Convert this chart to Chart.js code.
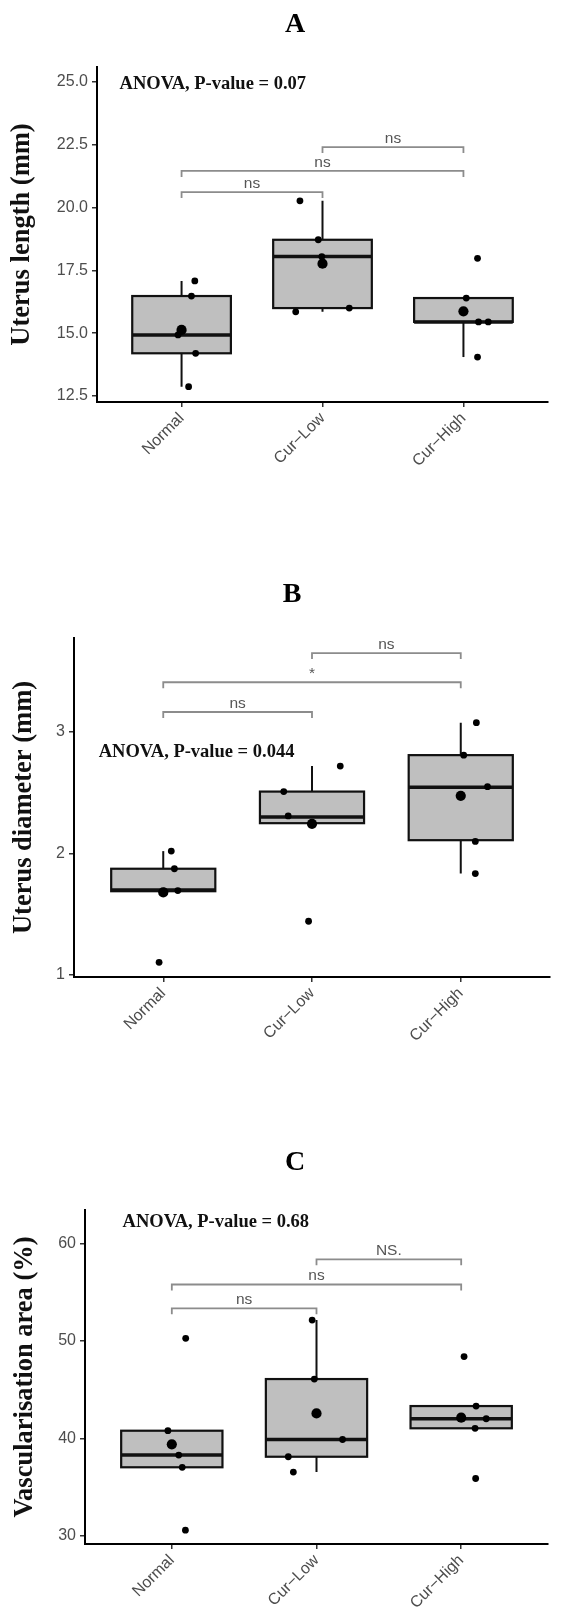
<!DOCTYPE html>
<html>
<head>
<meta charset="utf-8">
<script src="https://cdn.jsdelivr.net/npm/chart.js@4.4.1/dist/chart.umd.min.js"></script>
<style>
  body { margin: 0; background: #fff; }
  .panel { position: absolute; left: 0; }
</style>
</head>
<body>
<div class="panel" style="top:0"><canvas id="chartA" width="588" height="540"></canvas></div>
<div class="panel" style="top:540px"><canvas id="chartB" width="588" height="520"></canvas></div>
<div class="panel" style="top:1060px"><canvas id="chartC" width="588" height="560"></canvas></div>
<script>
const categories = ["Normal", "Cur\u2212Low", "Cur\u2212High"];

// A - uterus length (mm)
const lengthTicks = [12.5, 15, 17.5, 20, 22.5, 25];
const lengthTickLabels = ["12.5", "15.0", "17.5", "20.0", "22.5", "25.0"];
const lengthQ1 = [14.2, 16.0, 15.45];
const lengthMedian = [14.93, 18.05, 15.45];
const lengthQ3 = [16.48, 18.72, 16.4];
const lengthLow = [12.87, 15.85, 14.05];
const lengthHigh = [17.08, 20.27, 16.4];
const lengthMeans = [15.13, 17.77, 15.87];
const lengthPoints = [
  [17.08, 16.48, 14.93, 14.2, 12.87],
  [20.27, 18.72, 18.05, 16.0, 15.85],
  [17.98, 16.4, 15.45, 15.45, 14.05]
];
const lengthJitter = [
  [0.094, 0.07, -0.025, 0.1, 0.05],
  [-0.16, -0.03, -0.005, 0.19, -0.19],
  [0.1, 0.02, 0.107, 0.176, 0.1]
];
const lengthBracketFrom = [0, 0, 1];
const lengthBracketTo = [1, 2, 2];
const lengthBracketY = [20.62, 21.46, 22.41];
const lengthBracketLabels = ["ns", "ns", "ns"];

// B - uterus diameter (mm)
const diamTicks = [1, 2, 3];
const diamTickLabels = ["1", "2", "3"];
const diamQ1 = [1.69, 2.25, 2.11];
const diamMedian = [1.70, 2.30, 2.545];
const diamQ3 = [1.875, 2.51, 2.81];
const diamLow = [1.69, 2.25, 1.835];
const diamHigh = [2.02, 2.72, 3.077];
const diamMeans = [1.68, 2.245, 2.475];
const diamPoints = [
  [2.02, 1.875, 1.695, 1.69, 1.105],
  [2.72, 2.51, 2.31, 2.25, 1.443],
  [3.077, 2.81, 2.55, 2.10, 1.835]
];
const diamJitter = [
  [0.054, 0.075, 0.098, 0.005, -0.028],
  [0.19, -0.19, -0.16, 0.0, -0.023],
  [0.105, 0.02, 0.18, 0.098, 0.098]
];
const diamBracketFrom = [0, 0, 1];
const diamBracketTo = [1, 2, 2];
const diamBracketY = [3.165, 3.41, 3.65];
const diamBracketLabels = ["ns", "*", "ns"];

// C - vascularisation area (%)
const vascTicks = [30, 40, 50, 60];
const vascTickLabels = ["30", "40", "50", "60"];
const vascQ1 = [37.05, 38.13, 41.05];
const vascMedian = [38.3, 39.9, 42.03];
const vascQ3 = [40.8, 46.1, 43.33];
const vascLow = [37.05, 36.56, 41.05];
const vascHigh = [40.8, 52.15, 43.33];
const vascMeans = [39.4, 42.57, 42.14];
const vascPoints = [
  [50.28, 40.8, 38.3, 37.05, 30.6],
  [52.15, 46.1, 39.9, 38.13, 36.56],
  [48.4, 43.33, 42.03, 41.05, 35.9]
];
const vascJitter = [
  [0.096, -0.027, 0.048, 0.072, 0.094],
  [-0.03, -0.015, 0.18, -0.195, -0.16],
  [0.02, 0.103, 0.173, 0.096, 0.1]
];
const vascBracketFrom = [0, 0, 1];
const vascBracketTo = [1, 2, 2];
const vascBracketY = [53.35, 55.8, 58.38];
const vascBracketLabels = ["ns", "ns", "NS."];

const SANS = '"Liberation Sans", Arial, Helvetica, sans-serif';
const SERIF = '"Liberation Serif", "Times New Roman", Times, serif';
const BOX_WIDTH = 0.7;

function drawPanel(id, p) {
  const boxes = {
    id: "boxes",
    beforeDatasetsDraw(chart) {
      const { ctx, scales: { x, y } } = chart;
      ctx.save();
      ctx.strokeStyle = "#111";
      p.q1.forEach((q1, i) => {
        const cx = x.getPixelForValue(i + 1);
        const hw = x.getPixelForValue(i + 1 + BOX_WIDTH / 2) - cx;
        const top = y.getPixelForValue(p.q3[i]);
        const bot = y.getPixelForValue(q1);
        // whiskers
        ctx.lineWidth = 2;
        ctx.beginPath();
        ctx.moveTo(cx, top);
        ctx.lineTo(cx, y.getPixelForValue(p.high[i]));
        ctx.moveTo(cx, bot);
        ctx.lineTo(cx, y.getPixelForValue(p.low[i]));
        ctx.stroke();
        // box
        ctx.fillStyle = "#bfbfbf";
        ctx.fillRect(cx - hw, top, 2 * hw, bot - top);
        ctx.lineWidth = 2.2;
        ctx.strokeRect(cx - hw, top, 2 * hw, bot - top);
        // median
        const my = y.getPixelForValue(p.median[i]);
        ctx.lineWidth = 3.5;
        ctx.beginPath();
        ctx.moveTo(cx - hw, my);
        ctx.lineTo(cx + hw, my);
        ctx.stroke();
      });
      ctx.restore();
    }
  };

  const annotations = {
    id: "annotations",
    afterDraw(chart) {
      const { ctx, scales: { x, y } } = chart;
      ctx.save();
      // significance brackets
      ctx.strokeStyle = "#8c8c8c";
      ctx.lineWidth = 1.8;
      ctx.fillStyle = "#555";
      ctx.font = "15.5px " + SANS;
      ctx.textAlign = "center";
      ctx.textBaseline = "alphabetic";
      p.bracketY.forEach((v, i) => {
        const x1 = x.getPixelForValue(p.from[i] + 1);
        const x2 = x.getPixelForValue(p.to[i] + 1);
        const by = y.getPixelForValue(v);
        ctx.beginPath();
        ctx.moveTo(x1, by + 6);
        ctx.lineTo(x1, by);
        ctx.lineTo(x2, by);
        ctx.lineTo(x2, by + 6);
        ctx.stroke();
        ctx.fillText(p.bracketLabels[i], (x1 + x2) / 2, by - 4);
      });
      // ANOVA result
      ctx.fillStyle = "#111";
      ctx.font = "bold 18.5px " + SERIF;
      ctx.textAlign = "left";
      ctx.fillText(p.anova, x.getPixelForValue(p.anovaAt[0]), y.getPixelForValue(p.anovaAt[1]));
      // panel letter
      ctx.fillStyle = "#000";
      ctx.font = "bold 28px " + SERIF;
      ctx.textAlign = "center";
      ctx.fillText(p.letter, p.letterAt[0], p.letterAt[1]);
      ctx.restore();
    }
  };

  const pts = [];
  p.points.forEach((arr, i) => arr.forEach((v, j) => pts.push({ x: i + 1 + p.jitter[i][j], y: v })));
  const means = p.means.map((v, i) => ({ x: i + 1, y: v }));

  new Chart(document.getElementById(id), {
    type: "scatter",
    data: {
      datasets: [
        { data: pts, pointRadius: 3.4, backgroundColor: "#000", borderWidth: 0 },
        { data: means, pointRadius: 5.1, backgroundColor: "#000", borderWidth: 0 }
      ]
    },
    options: {
      responsive: false,
      animation: false,
      devicePixelRatio: 1,
      events: [],
      layout: { padding: { top: p.padTop, bottom: p.padBottom, left: 0, right: p.padRight } },
      plugins: { legend: { display: false }, tooltip: { enabled: false } },
      scales: {
        x: {
          type: "linear",
          min: 0.4,
          max: 3.6,
          afterBuildTicks: (s) => { s.ticks = categories.map((c, i) => ({ value: i + 1 })); },
          afterFit: (s) => { s.height = p.xHeight; },
          ticks: {
            callback: (v) => categories[Math.round(v) - 1],
            minRotation: 45,
            maxRotation: 45,
            autoSkip: false,
            padding: 2,
            color: "#4d4d4d",
            font: { family: SANS, size: 16 }
          },
          grid: { drawOnChartArea: false, tickLength: 5, tickColor: "#333", lineWidth: 1.5 },
          border: { color: "#000", width: 2 }
        },
        y: {
          min: p.yMin,
          max: p.yMax,
          afterBuildTicks: (s) => { s.ticks = p.ticks.map((v) => ({ value: v })); },
          afterFit: (s) => { s.width = p.yWidth; },
          ticks: {
            callback: (v, i) => p.tickLabels[i],
            padding: 4,
            color: "#4d4d4d",
            font: { family: SANS, size: 16 }
          },
          grid: { drawOnChartArea: false, tickLength: 5, tickColor: "#333", lineWidth: 1.5 },
          border: { color: "#000", width: 2 },
          title: {
            display: true,
            text: p.yTitle,
            color: "#111",
            padding: { top: p.yTitlePad, bottom: 0 },
            font: { family: SERIF, size: 26.5, weight: "bold", lineHeight: 1.2 }
          }
        }
      }
    },
    plugins: [boxes, annotations]
  });
}

drawPanel("chartA", {
  letter: "A", letterAt: [295, 32],
  anova: "ANOVA, P-value = 0.07", anovaAt: [0.56, 24.72],
  yTitle: "Uterus length (mm)", yTitlePad: 6,
  yMin: 12.26, yMax: 25.6, ticks: lengthTicks, tickLabels: lengthTickLabels,
  q1: lengthQ1, median: lengthMedian, q3: lengthQ3, low: lengthLow, high: lengthHigh,
  means: lengthMeans, points: lengthPoints, jitter: lengthJitter,
  from: lengthBracketFrom, to: lengthBracketTo, bracketY: lengthBracketY, bracketLabels: lengthBracketLabels,
  padTop: 67, padBottom: 38, padRight: 40, xHeight: 100, yWidth: 97
});

drawPanel("chartB", {
  letter: "B", letterAt: [292, 62],
  anova: "ANOVA, P-value = 0.044", anovaAt: [0.566, 2.794],
  yTitle: "Uterus diameter (mm)", yTitlePad: 8,
  yMin: 0.984, yMax: 3.774, ticks: diamTicks, tickLabels: diamTickLabels,
  q1: diamQ1, median: diamMedian, q3: diamQ3, low: diamLow, high: diamHigh,
  means: diamMeans, points: diamPoints, jitter: diamJitter,
  from: diamBracketFrom, to: diamBracketTo, bracketY: diamBracketY, bracketLabels: diamBracketLabels,
  padTop: 98, padBottom: 13, padRight: 38, xHeight: 70, yWidth: 74
});

drawPanel("chartC", {
  letter: "C", letterAt: [295, 110],
  anova: "ANOVA, P-value = 0.68", anovaAt: [0.66, 61.69],
  yTitle: "Vascularisation area (%)", yTitlePad: 9,
  yMin: 29.18, yMax: 63.44, ticks: vascTicks, tickLabels: vascTickLabels,
  q1: vascQ1, median: vascMedian, q3: vascQ3, low: vascLow, high: vascHigh,
  means: vascMeans, points: vascPoints, jitter: vascJitter,
  from: vascBracketFrom, to: vascBracketTo, bracketY: vascBracketY, bracketLabels: vascBracketLabels,
  padTop: 150, padBottom: 6, padRight: 40, xHeight: 70, yWidth: 85
});
</script>
</body>
</html>
